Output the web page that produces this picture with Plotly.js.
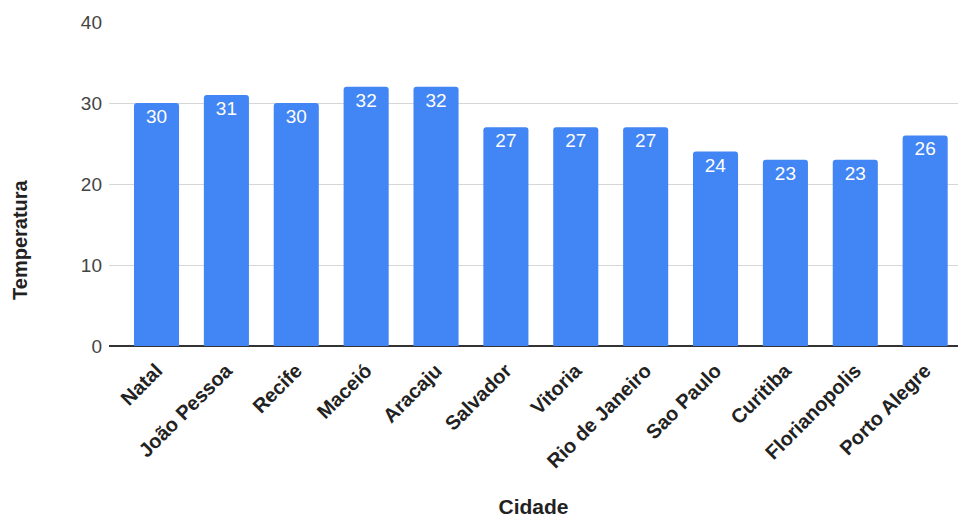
<!DOCTYPE html>
<html>
<head>
<meta charset="utf-8">
<script src="https://cdn.plot.ly/plotly-3.0.1.min.js"></script>
<style>html,body{margin:0;padding:0;background:#fff;}#chart{width:958px;height:518px;}</style>
</head>
<body>
<div id="chart"></div>
<script>
const cidades = ["Natal", "João Pessoa", "Recife", "Maceió", "Aracaju", "Salvador", "Vitoria", "Rio de Janeiro", "Sao Paulo", "Curitiba", "Florianopolis", "Porto Alegre"];
const temperaturas = [30, 31, 30, 32, 32, 27, 27, 27, 24, 23, 23, 26];
const yTicks = [0, 10, 20, 30, 40];

const trace = {
  type: 'bar',
  x: cidades,
  y: temperaturas,
  text: temperaturas.map(String),
  textposition: 'inside',
  insidetextanchor: 'end',
  textangle: 0,
  textfont: {family: 'Liberation Sans, Arial, sans-serif', size: 19, color: '#ffffff'},
  marker: {color: '#4285F4', cornerradius: 3},
  hoverinfo: 'none'
};

const layout = {
  width: 958, height: 518,
  margin: {l: 109, r: 0, t: 22, b: 172},
  paper_bgcolor: '#ffffff', plot_bgcolor: '#ffffff',
  bargap: 0.355,
  showlegend: false,
  font: {family: 'Liberation Sans, Arial, sans-serif'},
  xaxis: {
    type: 'category',
    range: [-0.68, 11.47],
    tickangle: -45,
    tickfont: {family: 'Liberation Sans, Arial, sans-serif', size: 20, color: '#222222', weight: 'bold'},
    showgrid: false,
    showline: false,
    ticks: '',
    ticklabelstandoff: 8,
    title: {text: 'Cidade', font: {family: 'Liberation Sans, Arial, sans-serif', size: 21, color: '#222222', weight: 'bold'}, standoff: 31}
  },
  yaxis: {
    range: [0, 40],
    tickvals: yTicks,
    ticktext: yTicks.map(String),
    tickfont: {family: 'Liberation Sans, Arial, sans-serif', size: 19, color: '#444444'},
    gridcolor: '#d6d6d6',
    gridwidth: 1,
    zeroline: true,
    zerolinecolor: '#333333',
    zerolinewidth: 1.5,
    ticks: '',
    ticklabelstandoff: 6,
    fixedrange: true
  },
  annotations: [{
    text: '<b>Temperatura</b>',
    xref: 'paper', yref: 'paper',
    x: -0.105, y: 0.33,
    xanchor: 'center', yanchor: 'middle',
    textangle: -90,
    showarrow: false,
    font: {family: 'Liberation Sans, Arial, sans-serif', size: 20, color: '#222222'}
  }]
};

Plotly.newPlot('chart', [trace], layout, {staticPlot: true, displayModeBar: false});
</script>
</body>
</html>
